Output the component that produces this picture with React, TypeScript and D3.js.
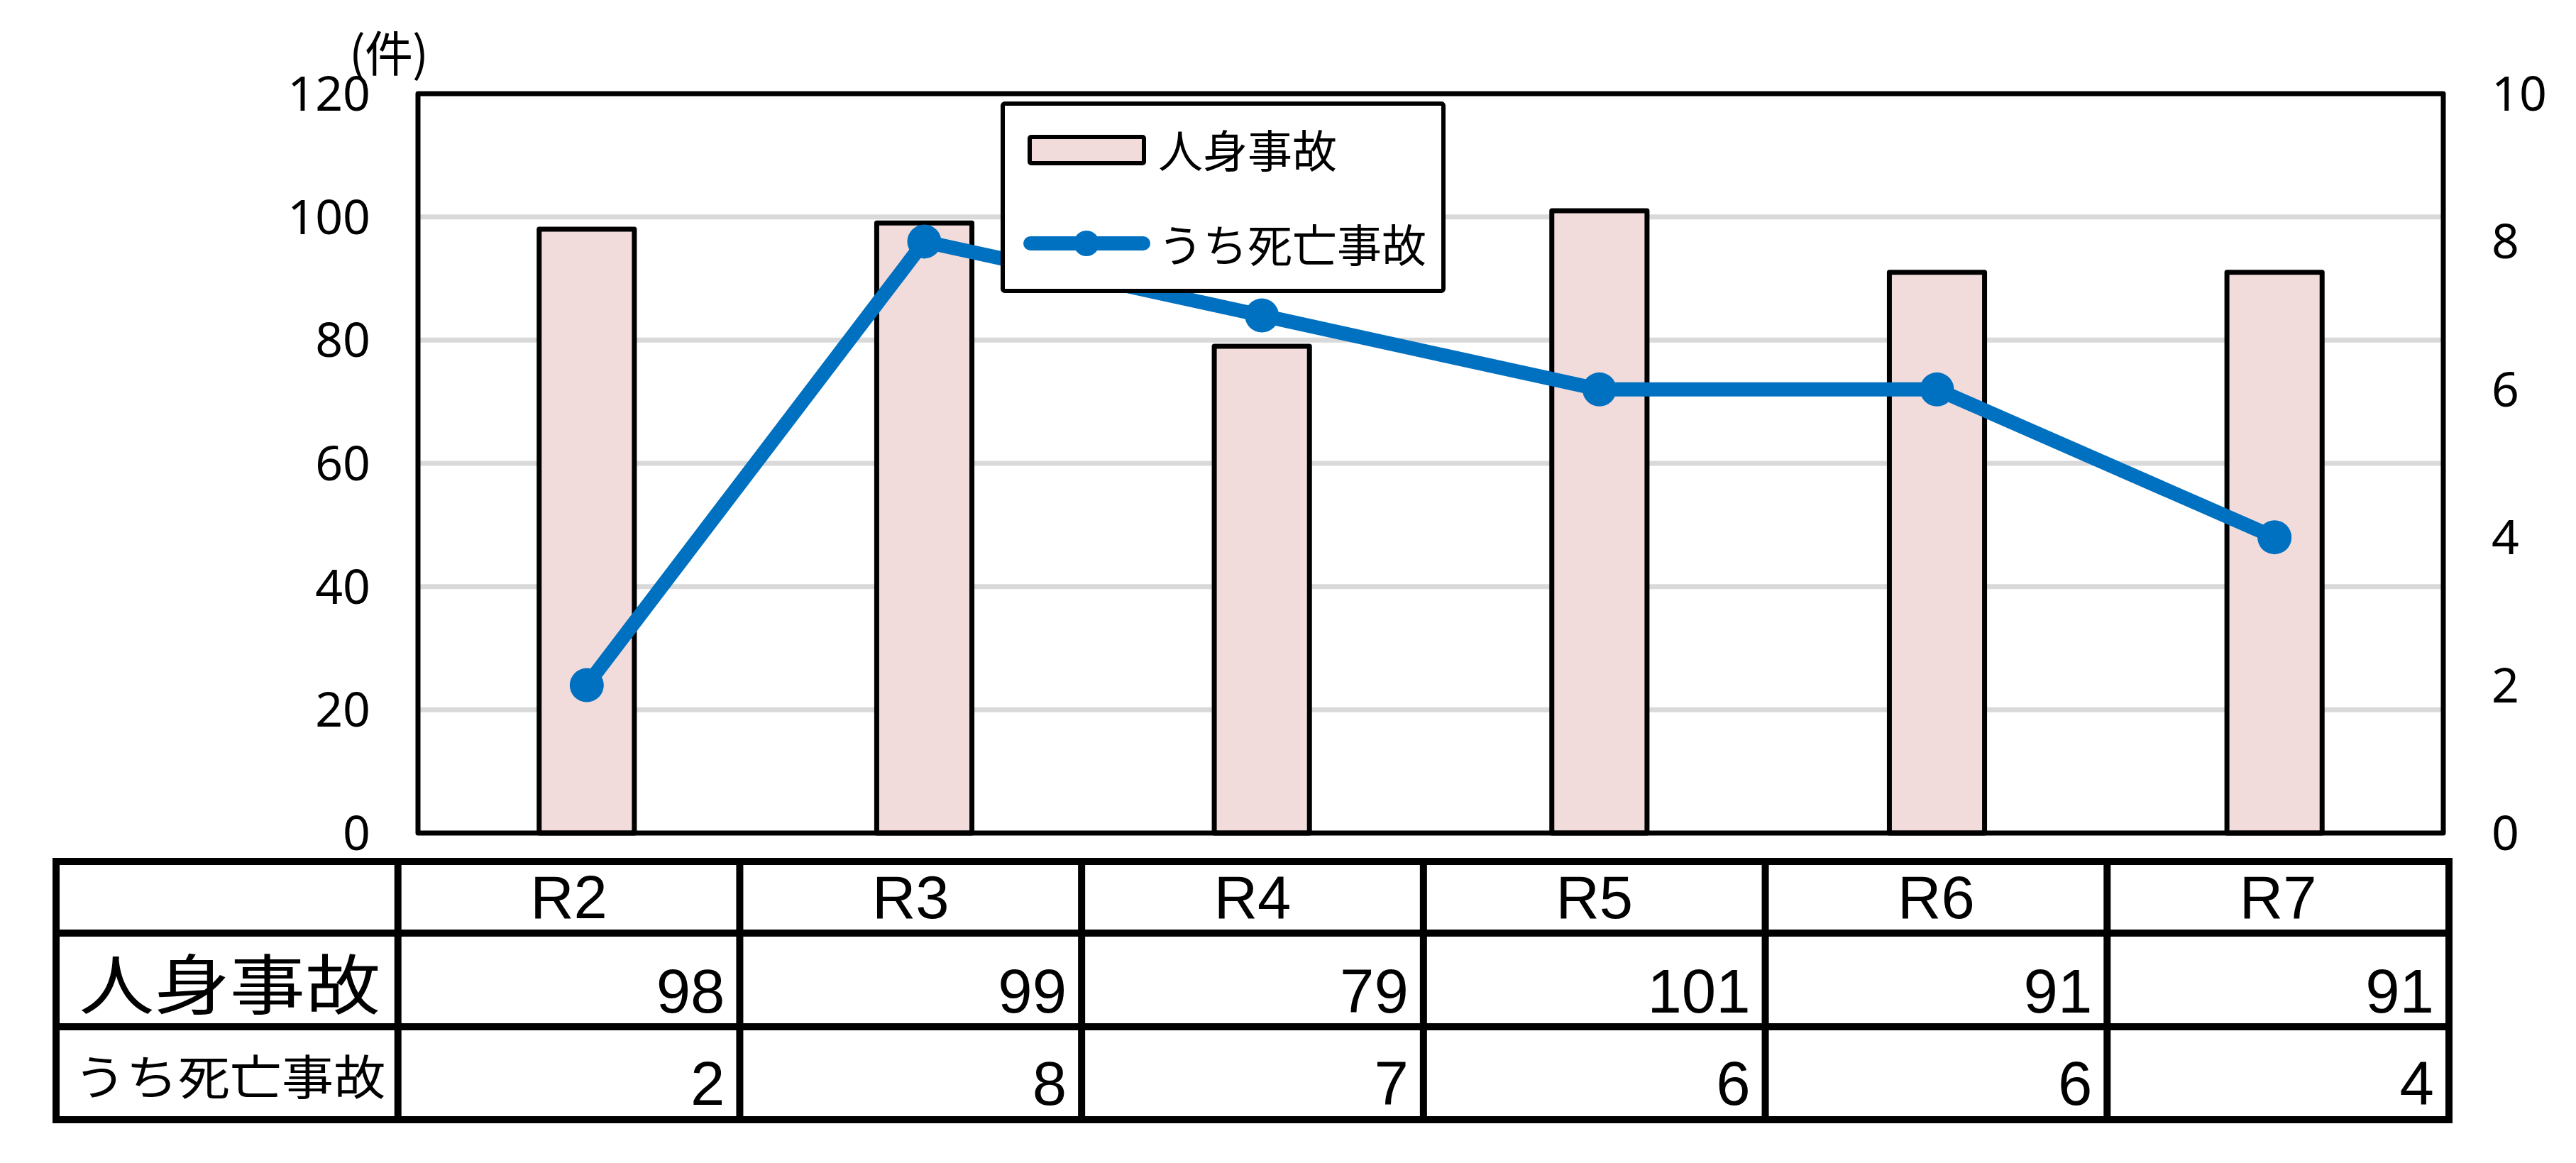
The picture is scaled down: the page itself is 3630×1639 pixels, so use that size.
import { useEffect, useRef } from "react";
import * as d3 from "d3";

const CATEGORIES = ["R2", "R3", "R4", "R5", "R6", "R7"];
const INJURY = [98, 99, 79, 101, 91, 91];
const FATAL = [2, 8, 7, 6, 6, 4];
const LEFT_TICKS = [0, 20, 40, 60, 80, 100, 120];
const RIGHT_TICKS = [0, 2, 4, 6, 8, 10];
const SERIES = ["人身事故", "うち死亡事故"];
const UNIT = "(件)";

const W = 3630;
const H = 1639;
const BAR_FILL = "#F2DCDB";
const LINE_COLOR = "#0070C0";
const CJK = "'Noto Sans CJK JP', 'Noto Sans', sans-serif";
const TICK_FONT = "'Noto Sans', 'Open Sans', sans-serif";
const TABLE_FONT = "'Liberation Sans', Arial, sans-serif";

export default function App() {
  const svgRef = useRef<SVGSVGElement>(null);

  useEffect(() => {
    const svg = d3.select(svgRef.current);
    svg.selectAll("*").remove();

    const plot = { left: 589, right: 3443, top: 132, bottom: 1174 };

    const x = d3
      .scaleBand<string>()
      .domain(CATEGORIES)
      .range([plot.left, plot.right])
      .paddingInner(0.718)
      .paddingOuter(0.359);
    const yL = d3.scaleLinear().domain([0, 120]).range([plot.bottom, plot.top]);
    const yR = d3.scaleLinear().domain([0, 10]).range([plot.bottom, plot.top]);
    const cx = (c: string) => x(c)! + x.bandwidth() / 2;

    svg.append("rect").attr("width", W).attr("height", H).attr("fill", "#fff");

    // gridlines
    svg
      .append("g")
      .selectAll("line")
      .data(LEFT_TICKS.filter((t) => t > 0 && t < 120))
      .join("line")
      .attr("x1", plot.left)
      .attr("x2", plot.right)
      .attr("y1", (d) => yL(d))
      .attr("y2", (d) => yL(d))
      .attr("stroke", "#D9D9D9")
      .attr("stroke-width", 7);

    // bars
    svg
      .append("g")
      .selectAll("rect")
      .data(CATEGORIES.map((c, i) => ({ c, v: INJURY[i] })))
      .join("rect")
      .attr("x", (d) => x(d.c)!)
      .attr("y", (d) => yL(d.v))
      .attr("width", x.bandwidth())
      .attr("height", (d) => plot.bottom - yL(d.v))
      .attr("fill", BAR_FILL)
      .attr("stroke", "#000")
      .attr("stroke-width", 7)
      .attr("stroke-linejoin", "round");

    // plot border
    svg
      .append("rect")
      .attr("x", plot.left)
      .attr("y", plot.top)
      .attr("width", plot.right - plot.left)
      .attr("height", plot.bottom - plot.top)
      .attr("fill", "none")
      .attr("stroke", "#000")
      .attr("stroke-width", 7)
      .attr("stroke-linejoin", "round");

    // line series
    const pts = CATEGORIES.map((c, i) => ({ c, v: FATAL[i] }));
    const line = d3
      .line<{ c: string; v: number }>()
      .x((d) => cx(d.c))
      .y((d) => yR(d.v));
    svg
      .append("path")
      .datum(pts)
      .attr("d", line)
      .attr("fill", "none")
      .attr("stroke", LINE_COLOR)
      .attr("stroke-width", 20)
      .attr("stroke-linejoin", "round");
    svg
      .append("g")
      .selectAll("circle")
      .data(pts)
      .join("circle")
      .attr("cx", (d) => cx(d.c))
      .attr("cy", (d) => yR(d.v))
      .attr("r", 24)
      .attr("fill", LINE_COLOR);

    // axis labels
    svg
      .append("g")
      .selectAll("text")
      .data(LEFT_TICKS)
      .join("text")
      .attr("x", 522)
      .attr("y", (d) => yL(d) + 24)
      .attr("text-anchor", "end")
      .attr("font-family", TICK_FONT)
      .attr("font-size", 68)
      .attr("fill", "#000")
      .text((d) => String(d));
    svg
      .append("g")
      .selectAll("text")
      .data(RIGHT_TICKS)
      .join("text")
      .attr("x", 3511)
      .attr("y", (d) => yR(d) + 24)
      .attr("font-family", TICK_FONT)
      .attr("font-size", 68)
      .attr("fill", "#000")
      .text((d) => String(d));
    svg
      .append("text")
      .attr("x", 548)
      .attr("y", 101)
      .attr("text-anchor", "middle")
      .attr("font-family", CJK)
      .attr("font-size", 68)
      .attr("textLength", 112)
      .attr("lengthAdjust", "spacing")
      .text(UNIT);

    // legend
    const lg = svg.append("g");
    lg.append("rect")
      .attr("x", 1413)
      .attr("y", 146)
      .attr("width", 621)
      .attr("height", 264)
      .attr("rx", 3)
      .attr("fill", "#fff")
      .attr("stroke", "#000")
      .attr("stroke-width", 6);
    lg.append("rect")
      .attr("x", 1451)
      .attr("y", 193)
      .attr("width", 161)
      .attr("height", 37)
      .attr("rx", 2)
      .attr("fill", BAR_FILL)
      .attr("stroke", "#000")
      .attr("stroke-width", 6);
    lg.append("line")
      .attr("x1", 1452)
      .attr("x2", 1611)
      .attr("y1", 343)
      .attr("y2", 343)
      .attr("stroke", LINE_COLOR)
      .attr("stroke-width", 20)
      .attr("stroke-linecap", "round");
    lg.append("circle").attr("cx", 1531).attr("cy", 343).attr("r", 18).attr("fill", LINE_COLOR);
    lg.selectAll("text.lbl")
      .data(SERIES)
      .join("text")
      .attr("class", "lbl")
      .attr("x", 1632)
      .attr("y", (_, i) => (i === 0 ? 208 : 341))
      .attr("dominant-baseline", "central")
      .attr("font-family", CJK)
      .attr("font-size", 63)
      .text((d) => d);

    // data table
    const col = d3.scaleLinear().domain([0, 7]).range([79, 3451]);
    const rows = [1214, 1315, 1447, 1578];
    const tg = svg.append("g");
    tg.selectAll("line.h")
      .data(rows)
      .join("line")
      .attr("class", "h")
      .attr("x1", col(0))
      .attr("x2", col(7))
      .attr("y1", (d) => d)
      .attr("y2", (d) => d)
      .attr("stroke", "#000")
      .attr("stroke-width", 10)
      .attr("stroke-linecap", "square");
    tg.selectAll("line.v")
      .data(d3.range(8))
      .join("line")
      .attr("class", "v")
      .attr("x1", (d) => col(d))
      .attr("x2", (d) => col(d))
      .attr("y1", rows[0])
      .attr("y2", rows[3])
      .attr("stroke", "#000")
      .attr("stroke-width", 10)
      .attr("stroke-linecap", "square");

    tg.selectAll("text.hdr")
      .data(CATEGORIES)
      .join("text")
      .attr("class", "hdr")
      .attr("x", (_, i) => (col(i + 1) + col(i + 2)) / 2)
      .attr("y", 1294)
      .attr("text-anchor", "middle")
      .attr("font-family", TABLE_FONT)
      .attr("font-size", 85)
      .text((d) => d);

    const valueRows = [
      { vals: INJURY, base: 1427 },
      { vals: FATAL, base: 1557 },
    ];
    valueRows.forEach((r, ri) => {
      tg.selectAll(`text.v${ri}`)
        .data(r.vals)
        .join("text")
        .attr("class", `v${ri}`)
        .attr("x", (_, i) => col(i + 2) - 21)
        .attr("y", r.base)
        .attr("text-anchor", "end")
        .attr("font-family", TABLE_FONT)
        .attr("font-size", 87)
        .text((d) => String(d));
    });

    const labelSpec = [
      { size: 92, len: 425, cy: 1381 },
      { size: 67, len: 439, cy: 1513 },
    ];
    tg.selectAll("text.rl")
      .data(SERIES)
      .join("text")
      .attr("class", "rl")
      .attr("x", (col(0) + col(1)) / 2 + 4)
      .attr("y", (_, i) => labelSpec[i].cy)
      .attr("text-anchor", "middle")
      .attr("dominant-baseline", "central")
      .attr("font-family", CJK)
      .attr("font-size", (_, i) => labelSpec[i].size)
      .attr("textLength", (_, i) => labelSpec[i].len)
      .attr("lengthAdjust", "spacingAndGlyphs")
      .text((d) => d);
  }, []);

  return (
    <svg
      ref={svgRef}
      width={W}
      height={H}
      style={{ position: "absolute", left: 0, top: 0, display: "block" }}
    />
  );
}
